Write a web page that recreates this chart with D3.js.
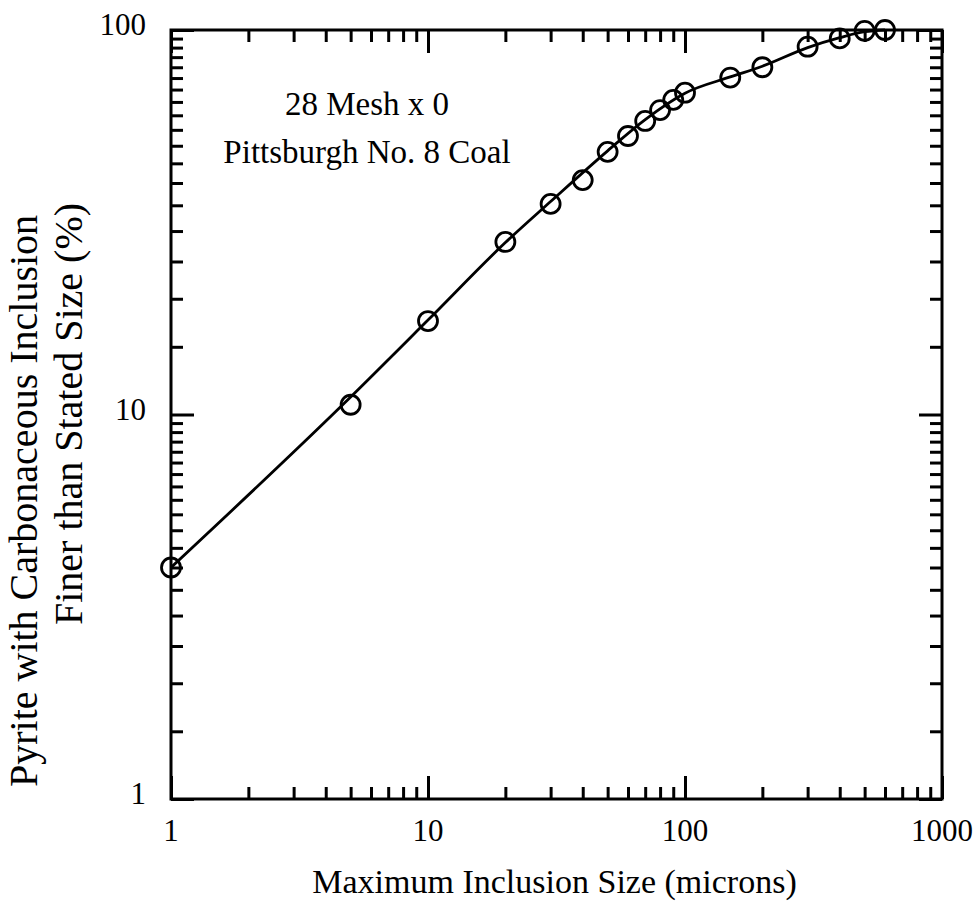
<!DOCTYPE html>
<html>
<head>
<meta charset="utf-8">
<script src="https://cdn.jsdelivr.net/npm/d3@7"></script>
<style>
  html, body { margin: 0; padding: 0; background: #fff; }
  svg { display: block; }
  text { font-family: "Liberation Serif", "Times New Roman", "DejaVu Serif", serif; fill: #000; }
</style>
</head>
<body>
<svg id="chart" width="978" height="916"></svg>
<script>
// ---- data ----
const sizes = [1, 5, 10, 20, 30, 40, 50, 60, 70, 80, 90, 100, 150, 200, 300, 400, 500, 600];
const finer = [4.0, 10.6, 17.5, 28.1, 35.3, 40.7, 48.2, 53.0, 58.0, 61.9, 65.8, 68.7, 75.2, 80.0, 90.5, 95.1, 99.5, 100];
// smooth fitted curve drawn through the data
const fitSizes = [1, 5, 10, 20, 30, 50, 70, 100, 150, 200, 300, 400, 500, 600];
const fitFiner = [4.0, 11.1, 17.6, 28.0, 35.8, 48.5, 58.5, 68.5, 75.5, 80.5, 90.0, 95.5, 99.0, 100];
const xMajorTicks = [1, 10, 100, 1000];
const xMinorTicks = [2,3,4,5,6,7,8,9, 20,30,40,50,60,70,80,90, 200,300,400,500,600,700,800,900];
const yMajorTicks = [1, 10, 100];
const yMinorTicks = [1.5,2,2.5,3,3.5,4,4.5,5,5.5,6,6.5,7,7.5,8,8.5,9,9.5,
                     15,20,25,30,35,40,45,50,55,60,65,70,75,80,85,90,95];
const xTickLabels = ["1", "10", "100", "1000"];
const yTickLabels = ["1", "10", "100"];
const xTitle = "Maximum Inclusion Size (microns)";
const yTitle = ["Pyrite with Carbonaceous Inclusion", "Finer than Stated Size (%)"];
const note = ["28 Mesh x 0", "Pittsburgh No. 8 Coal"];

// ---- layout ----
const L = 171, R = 942, T = 30, B = 799;
const svg = d3.select("#chart");
const x = d3.scaleLog().domain([1, 1000]).range([L, R]);
const y = d3.scaleLog().domain([1, 100]).range([B, T]);

const majorLen = 23, minorLen = 12, sw = 3;

function tickGroup(axisGen, transform) {
  const g = svg.append("g").attr("transform", transform).call(axisGen);
  g.select(".domain").remove();
  g.selectAll(".tick line").attr("stroke", "#000").attr("stroke-width", sw);
  return g;
}

// bottom
tickGroup(d3.axisTop(x).tickValues(xMinorTicks).tickSize(minorLen).tickFormat(""), `translate(0,${B})`);
tickGroup(d3.axisTop(x).tickValues(xMajorTicks).tickSize(majorLen).tickFormat(""), `translate(0,${B})`);
// top
tickGroup(d3.axisBottom(x).tickValues(xMinorTicks).tickSize(minorLen).tickFormat(""), `translate(0,${T})`);
tickGroup(d3.axisBottom(x).tickValues(xMajorTicks).tickSize(majorLen).tickFormat(""), `translate(0,${T})`);
// left
tickGroup(d3.axisRight(y).tickValues(yMinorTicks).tickSize(minorLen).tickFormat(""), `translate(${L},0)`);
tickGroup(d3.axisRight(y).tickValues(yMajorTicks).tickSize(majorLen).tickFormat(""), `translate(${L},0)`);
// right
tickGroup(d3.axisLeft(y).tickValues(yMinorTicks).tickSize(minorLen).tickFormat(""), `translate(${R},0)`);
tickGroup(d3.axisLeft(y).tickValues(yMajorTicks).tickSize(majorLen).tickFormat(""), `translate(${R},0)`);

// frame
svg.append("rect")
  .attr("x", L).attr("y", T).attr("width", R - L).attr("height", B - T)
  .attr("fill", "none").attr("stroke", "#000").attr("stroke-width", sw);

// tick labels
svg.append("g").selectAll("text").data(xMajorTicks).join("text")
  .attr("x", d => x(d)).attr("y", B + 42)
  .attr("text-anchor", "middle").attr("font-size", 31)
  .text((d, i) => xTickLabels[i]);
svg.append("g").selectAll("text").data(yMajorTicks).join("text")
  .attr("x", L - 25).attr("y", d => y(d) + 5)
  .attr("text-anchor", "end").attr("font-size", 31)
  .text((d, i) => yTickLabels[i]);

// axis titles
svg.append("text").attr("x", (L + R) / 2 - 2).attr("y", 893)
  .attr("text-anchor", "middle").attr("font-size", 34).text(xTitle);
svg.append("text").attr("transform", `translate(37,501) rotate(-90)`)
  .attr("text-anchor", "middle").attr("font-size", 40).text(yTitle[0]);
svg.append("text").attr("transform", `translate(82,414) rotate(-90)`)
  .attr("text-anchor", "middle").attr("font-size", 40).text(yTitle[1]);

// annotation
svg.append("text").attr("x", 367).attr("y", 115)
  .attr("text-anchor", "middle").attr("font-size", 33).text(note[0]);
svg.append("text").attr("x", 367).attr("y", 163)
  .attr("text-anchor", "middle").attr("font-size", 33).text(note[1]);

// fitted line
const line = d3.line().x(d => x(d[0])).y(d => y(d[1])).curve(d3.curveMonotoneX);
svg.append("path")
  .datum(fitSizes.map((s, i) => [s, fitFiner[i]]))
  .attr("d", line).attr("fill", "none").attr("stroke", "#000").attr("stroke-width", 2.8);

// data points
svg.append("g").selectAll("circle").data(sizes.map((s, i) => [s, finer[i]])).join("circle")
  .attr("cx", d => x(d[0])).attr("cy", d => y(d[1])).attr("r", 9.5)
  .attr("fill", "none").attr("stroke", "#000").attr("stroke-width", 2.8);
</script>
</body>
</html>
